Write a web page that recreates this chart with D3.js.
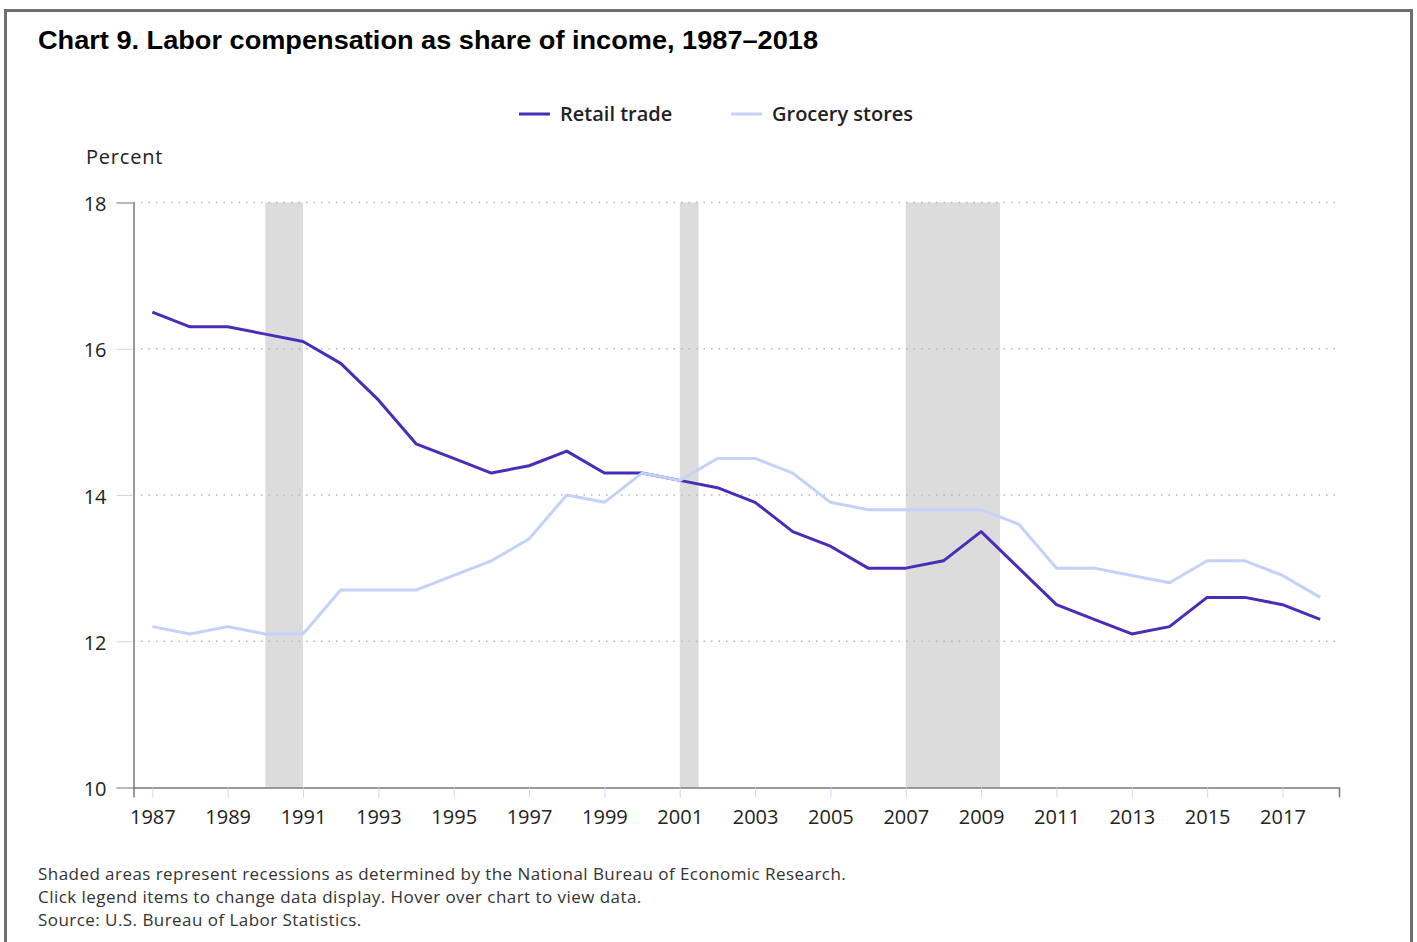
<!DOCTYPE html>
<html>
<head>
<meta charset="utf-8">
<script src="https://cdn.jsdelivr.net/npm/d3@7"></script>
<style>
  body { margin: 0; background: #fff; }
  svg text { font-family: "Open Sans", "Segoe UI", sans-serif; }
</style>
</head>
<body>
<div id="chart"></div>
<script>
// chart values
const years = d3.range(1987, 2019);
const retailTrade = [16.5, 16.3, 16.3, 16.2, 16.1, 15.8, 15.3, 14.7, 14.5, 14.3,
  14.4, 14.6, 14.3, 14.3, 14.2, 14.1, 13.9, 13.5, 13.3, 13.0,
  13.0, 13.1, 13.5, 13.0, 12.5, 12.3, 12.1, 12.2, 12.6, 12.6, 12.5, 12.3];
const groceryStores = [12.2, 12.1, 12.2, 12.1, 12.1, 12.7, 12.7, 12.7, 12.9, 13.1,
  13.4, 14.0, 13.9, 14.3, 14.2, 14.5, 14.5, 14.3, 13.9, 13.8,
  13.8, 13.8, 13.8, 13.6, 13.0, 13.0, 12.9, 12.8, 13.1, 13.1, 12.9, 12.6];
const recessions = [[1990, 1991], [2001, 2001.5], [2007, 2009.5]];
const yTicks = [10, 12, 14, 16, 18];
const xTicks = d3.range(1987, 2019, 2);
const seriesNames = ["Retail trade", "Grocery stores"];
const seriesColors = ["#4a2cb8", "#c3d2fb"];

const width = 1417, height = 942;
const svg = d3.select("#chart").append("svg")
  .attr("width", width).attr("height", height);

// frame
svg.append("rect")
  .attr("x", 5.5).attr("y", 10.5)
  .attr("width", 1406).attr("height", 940)
  .attr("fill", "#fff").attr("stroke", "#6f6f6f").attr("stroke-width", 3);

svg.append("text")
  .attr("x", 38).attr("y", 49)
  .style("font-family", "'Liberation Sans', Arial, sans-serif")
  .style("font-weight", "bold").style("font-size", "25px")
  .attr("textLength", 780).attr("lengthAdjust", "spacingAndGlyphs")
  .attr("fill", "#000")
  .text("Chart 9. Labor compensation as share of income, 1987\u20132018");

const x = d3.scaleLinear().domain([1986.5, 2018.5]).range([133.5, 1339]);
const y = d3.scaleLinear().domain([10, 18]).range([787.5, 202.5]);

// recession bands
svg.append("g").selectAll("rect")
  .data(recessions)
  .join("rect")
    .attr("x", d => x(d[0]))
    .attr("width", d => x(d[1]) - x(d[0]))
    .attr("y", y(18))
    .attr("height", y(10) - y(18))
    .attr("fill", "#dcdcdc");

// grid
svg.append("g").selectAll("line")
  .data(yTicks.filter(t => t > 10))
  .join("line")
    .attr("x1", x(1986.5)).attr("x2", x(2018.5))
    .attr("y1", d => y(d)).attr("y2", d => y(d))
    .attr("stroke", "#b5b5b5").attr("stroke-width", 1.5)
    .attr("stroke-dasharray", "1.5,6");

// y axis
const yAxis = svg.append("g")
  .attr("transform", `translate(${x(1986.5)},0)`)
  .call(d3.axisLeft(y).tickValues(yTicks).tickSize(17).tickPadding(10));
yAxis.select(".domain").attr("stroke", "#7a7a7a").attr("stroke-width", 1.5);
yAxis.selectAll(".tick line").attr("stroke", "#ccd6eb");
yAxis.selectAll(".tick text").style("font-size", "20px").attr("fill", "#222")
  .attr("dy", "0.4em");

// x axis
const xAxis = svg.append("g")
  .attr("transform", `translate(0,${y(10)})`)
  .call(d3.axisBottom(x).tickValues(xTicks).tickFormat(d3.format("d")).tickSize(10).tickPadding(12));
xAxis.select(".domain").attr("stroke", "#7a7a7a").attr("stroke-width", 1.5);
xAxis.selectAll(".tick line").attr("stroke", "#ccd6eb");
xAxis.selectAll(".tick text").style("font-size", "20px").attr("fill", "#222");

svg.append("text")
  .attr("x", 86).attr("y", 164)
  .style("font-size", "20px").style("letter-spacing", "0.8px").attr("fill", "#222")
  .text("Percent");

// lines
const line = d3.line()
  .x((d, i) => x(years[i]))
  .y(d => y(d));
const seriesValues = [retailTrade, groceryStores];
svg.append("g").selectAll("path")
  .data(seriesValues)
  .join("path")
    .attr("d", line)
    .attr("fill", "none")
    .attr("stroke", (d, i) => seriesColors[i])
    .attr("stroke-width", 3)
    .attr("stroke-linejoin", "round");

// legend
const legendX = [519, 731];
const legend = svg.append("g").selectAll("g")
  .data(seriesNames)
  .join("g")
    .attr("transform", (d, i) => `translate(${legendX[i]},114)`);
legend.append("line")
  .attr("x1", 0).attr("x2", 31)
  .attr("stroke", (d, i) => seriesColors[i])
  .attr("stroke-width", 3);
legend.append("text")
  .attr("x", 41).attr("y", 7)
  .style("font-size", "20px").style("font-weight", "600")
  .attr("fill", "#222")
  .text(d => d);

// footnotes
const notes = [
  "Shaded areas represent recessions as determined by the National Bureau of Economic Research.",
  "Click legend items to change data display. Hover over chart to view data.",
  "Source: U.S. Bureau of Labor Statistics."
];
svg.append("g").selectAll("text")
  .data(notes)
  .join("text")
    .attr("x", 38).attr("y", (d, i) => 880 + i * 23)
    .style("font-size", "17px").style("letter-spacing", "0.45px").attr("fill", "#333")
    .text(d => d);
</script>
</body>
</html>
